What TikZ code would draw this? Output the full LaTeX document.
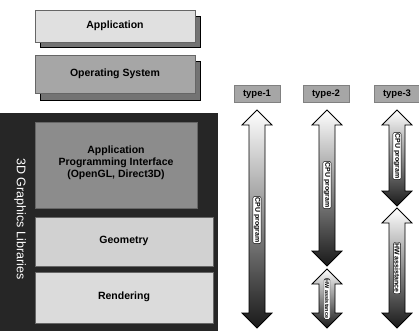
\documentclass[tikz,border=0pt]{standalone}
\usepackage{fontspec}
\setmainfont{Liberation Sans}
\usetikzlibrary{positioning}
\tikzset{
  x=1pt,y=-1pt,
  lbl/.style={font=\bfseries\fontsize{10.5}{12}\selectfont, text=black},
  frontbox/.style={draw=black!60, line width=0.6pt},
  shadowbox/.style={draw=black, fill=black!55, line width=0.6pt},
  typebox/.style={draw=black!50, fill=black!35, font=\bfseries\fontsize{9.5}{11}\selectfont, inner sep=1.5pt, minimum width=46pt, minimum height=17pt},
  arrowlbl/.style={draw=black, fill=white, rounded corners=2pt, rotate=-90, font=\bfseries\fontsize{7}{8}\selectfont, inner sep=1pt},
  arrowbody/.style={draw=black, line width=0.8pt, top color=white, bottom color=black!90, middle color=black!45},
}
\newcommand\dblarrow[3]{%
  \path[arrowbody] (#1,#2) -- ({#1+15},{#2+15}) -- ({#1+8},{#2+15}) -- ({#1+8},{#3-15}) -- ({#1+15},{#3-15}) -- (#1,#3) -- ({#1-15},{#3-15}) -- ({#1-8},{#3-15}) -- ({#1-8},{#2+15}) -- ({#1-15},{#2+15}) -- cycle;}
\begin{document}
\begin{tikzpicture}
\useasboundingbox (0,0) rectangle (419,331);
% Application
\draw[shadowbox] (40,16) rectangle (200,47);
\draw[frontbox, fill=black!12] (35,10) rectangle (195,42);
\node[lbl] (app) at (115,26) {Application};
% Operating system
\draw[shadowbox] (40,61) rectangle (200,100);
\draw[frontbox, fill=black!35] (35,55) rectangle (195,93);
\node[lbl] (os) at (115,74) {Operating System};
% 3D graphics libraries panel
\fill[black!85] (0,113) rectangle (218,331);
\node[rotate=-90, text=white, font=\fontsize{12.5}{14}\selectfont] (lib) at (20,219) {3D Graphics Libraries};
\draw[frontbox, fill=black!45] (35,122) rectangle (197,208);
\node[lbl, align=center, font=\bfseries\fontsize{10.5}{12}\selectfont] (api) at (116,163) {Application\\Programming Interface\\(OpenGL, Direct3D)};
\draw[frontbox, fill=black!18] (35,217) rectangle (213,266);
\node[lbl] (geo) at (124,241) {Geometry};
\draw[frontbox, fill=black!14] (35,272) rectangle (213,323);
\node[lbl] (ren) at (124,297) {Rendering};
% type labels
\node[typebox] (t1) at (257,94) {type-1};
\node[typebox] (t2) at (326,94) {type-2};
\node[typebox] (t3) at (397,94) {type-3};
% arrows type-1
\dblarrow{257}{110}{328}
\node[arrowlbl] (c1) at (257,220) {CPU program};
% type-2
\dblarrow{327}{110}{266}
\node[arrowlbl] (c2) at (327,185) {CPU program};
\dblarrow{327}{269}{328}
\node[arrowlbl, font=\bfseries\fontsize{5.5}{6}\selectfont] (h2) at (327,299) {HW assistance};
% type-3
\dblarrow{397}{110}{206}
\node[arrowlbl] (c3) at (397,156) {CPU program};
\dblarrow{397}{208}{328}
\node[arrowlbl] (h3) at (397,268) {HW assistance};
\end{tikzpicture}
\end{document}
